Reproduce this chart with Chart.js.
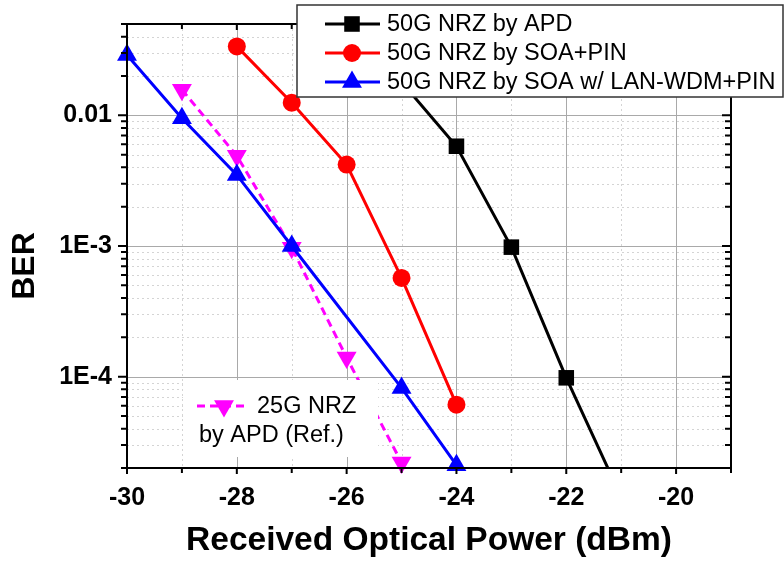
<!DOCTYPE html>
<html>
<head>
<meta charset="utf-8">
<script src="https://cdn.jsdelivr.net/npm/chart.js@4.4.0/dist/chart.umd.min.js"></script>
<style>
  html, body { margin: 0; padding: 0; background: #fff; }
  #wrap { width: 784px; height: 562px; }
</style>
</head>
<body>
<div id="wrap"><canvas id="c"></canvas></div>
<script>
const FONT = '"Liberation Sans", Arial, sans-serif';

// 50G NRZ by APD
const powerAPD = [-25, -24, -23, -22, -21];
const berAPD = [0.018, 0.0058, 0.00098, 0.000098, 0.000012];
// 50G NRZ by SOA+PIN
const powerSOA = [-28, -27, -26, -25, -24];
const berSOA = [0.0337, 0.0125, 0.0042, 0.00057, 0.000061];
// 50G NRZ by SOA w/ LAN-WDM+PIN
const powerWDM = [-30, -29, -28, -27, -25, -24];
const berWDM = [0.029, 0.0095, 0.0035, 0.001, 0.000082, 0.000021];
// 25G NRZ by APD (Ref.)
const powerRef = [-29, -28, -27, -26, -25];
const berRef = [0.0157, 0.0049, 0.00097, 0.00014, 0.000022];

const xTicks = [-30, -29, -28, -27, -26, -25, -24, -23, -22, -21, -20, -19];
const xLabels = ['-30', '', '-28', '', '-26', '', '-24', '', '-22', '', '-20', ''];
const yMajor = [1e-4, 1e-3, 1e-2];
const yLabels = ['1E-4', '1E-3', '0.01'];
const yDecades = [1e-5, 1e-4, 1e-3, 1e-2];
const yMult = [2, 3, 4, 5, 6, 7, 8, 9];
const Y_MIN = 2e-5, Y_MAX = 0.05;

const yMinor = [];
yDecades.forEach(d => yMult.forEach(m => {
  const v = d * m;
  if (v >= Y_MIN * 0.999 && v <= Y_MAX * 1.001) yMinor.push(v);
}));
const yAll = yMinor.concat(yMajor).sort((a, b) => a - b);

const pts = (xs, ys) => xs.map((x, i) => ({ x: x, y: ys[i] }));

function mark(ctx, style, x, y, r, rot) {
  ctx.beginPath();
  if (style === 'circle') {
    ctx.arc(x, y, r, 0, Math.PI * 2);
  } else if (style === 'rect') {
    const h = r * Math.SQRT1_2;
    ctx.rect(x - h, y - h, 2 * h, 2 * h);
  } else {
    const s = rot ? -1 : 1;
    ctx.moveTo(x, y - s * r);
    ctx.lineTo(x + r * 0.866, y + s * r / 2);
    ctx.lineTo(x - r * 0.866, y + s * r / 2);
    ctx.closePath();
  }
  ctx.fill();
}

const deco = {
  id: 'deco',
  beforeDatasetsDraw(chart) {
    const { ctx, chartArea: a, scales: { x, y } } = chart;
    ctx.save();
    ctx.lineWidth = 1;
    // minor grid, dotted
    ctx.strokeStyle = '#d4d4d4';
    ctx.setLineDash([2, 3]);
    xTicks.forEach((v, i) => {
      if (xLabels[i]) return;
      const px = Math.round(x.getPixelForValue(v)) + 0.5;
      ctx.beginPath(); ctx.moveTo(px, a.top); ctx.lineTo(px, a.bottom); ctx.stroke();
    });
    yMinor.forEach(v => {
      const py = Math.round(y.getPixelForValue(v)) + 0.5;
      ctx.beginPath(); ctx.moveTo(a.left, py); ctx.lineTo(a.right, py); ctx.stroke();
    });
    // major grid
    ctx.setLineDash([]);
    ctx.strokeStyle = '#a9a9a9';
    xTicks.forEach((v, i) => {
      if (!xLabels[i]) return;
      const px = Math.round(x.getPixelForValue(v)) + 0.5;
      ctx.beginPath(); ctx.moveTo(px, a.top); ctx.lineTo(px, a.bottom); ctx.stroke();
    });
    yMajor.forEach(v => {
      const py = Math.round(y.getPixelForValue(v)) + 0.5;
      ctx.beginPath(); ctx.moveTo(a.left, py); ctx.lineTo(a.right, py); ctx.stroke();
    });
    ctx.restore();
  },
  afterDatasetsDraw(chart) {
    const { ctx, chartArea: a, scales: { x, y } } = chart;
    const ds = chart.data.datasets;
    ctx.save();

    // frame and ticks
    ctx.strokeStyle = '#000';
    ctx.lineWidth = 2;
    ctx.strokeRect(a.left, a.top, a.right - a.left, a.bottom - a.top);
    xTicks.forEach((v, i) => {
      const px = x.getPixelForValue(v);
      const len = xLabels[i] ? 6 : 5;
      ctx.beginPath();
      ctx.moveTo(px, a.bottom); ctx.lineTo(px, a.bottom + len);
      ctx.moveTo(px, a.top); ctx.lineTo(px, a.top + len);
      ctx.stroke();
    });
    yAll.forEach(v => {
      const py = y.getPixelForValue(v);
      const len = yMajor.includes(v) ? 9 : 6;
      ctx.beginPath();
      ctx.moveTo(a.left, py); ctx.lineTo(a.left - len, py);
      ctx.moveTo(a.right, py); ctx.lineTo(a.right - len, py);
      ctx.stroke();
    });

    // y title
    ctx.save();
    ctx.translate(25, 266);
    ctx.rotate(-Math.PI / 2);
    ctx.fillStyle = '#000';
    ctx.font = 'bold 32px ' + FONT;
    ctx.textAlign = 'center';
    ctx.textBaseline = 'middle';
    ctx.fillText('BER', 0, 0);
    ctx.restore();

    // main legend
    ctx.fillStyle = '#fff';
    ctx.fillRect(297, 5, 486, 92);
    ctx.strokeStyle = '#333';
    ctx.lineWidth = 1.5;
    ctx.strokeRect(297, 5, 486, 92);
    ctx.font = '23.5px ' + FONT;
    ctx.textBaseline = 'middle';
    ctx.textAlign = 'left';
    [0, 1, 2].forEach((k, r) => {
      const d = ds[k];
      const ry = 24 + r * 29;
      ctx.strokeStyle = d.borderColor;
      ctx.lineWidth = 3;
      ctx.setLineDash([]);
      ctx.beginPath(); ctx.moveTo(325, ry); ctx.lineTo(380, ry); ctx.stroke();
      ctx.fillStyle = d.borderColor;
      mark(ctx, d.pointStyle, 352, ry, d.pointRadius, false);
      ctx.fillStyle = '#000';
      ctx.fillText(d.label, 387, ry + 1);
    });

    // reference legend
    const d = ds[3];
    ctx.fillStyle = '#fff';
    ctx.fillRect(183, 380, 195, 77);
    ctx.strokeStyle = d.borderColor;
    ctx.lineWidth = 3;
    ctx.setLineDash(d.borderDash);
    ctx.beginPath(); ctx.moveTo(197, 406); ctx.lineTo(249, 406); ctx.stroke();
    ctx.setLineDash([]);
    ctx.fillStyle = d.borderColor;
    mark(ctx, d.pointStyle, 224, 406, d.pointRadius, true);
    ctx.fillStyle = '#000';
    ctx.fillText('25G NRZ', 257, 407);
    ctx.fillText('by APD (Ref.)', 199, 436);

    ctx.restore();
  }
};

new Chart(document.getElementById('c'), {
  type: 'line',
  data: {
    datasets: [
      {
        label: '50G NRZ by APD', data: pts(powerAPD, berAPD),
        borderColor: '#000000', backgroundColor: '#000000',
        pointStyle: 'rect', pointRadius: 11, clip: 0
      },
      {
        label: '50G NRZ by SOA+PIN', data: pts(powerSOA, berSOA),
        borderColor: '#ff0000', backgroundColor: '#ff0000',
        pointStyle: 'circle', pointRadius: 9, clip: false
      },
      {
        label: '50G NRZ by SOA w/ LAN-WDM+PIN', data: pts(powerWDM, berWDM),
        borderColor: '#0000ff', backgroundColor: '#0000ff',
        pointStyle: 'triangle', pointRadius: 11.5, clip: false
      },
      {
        label: '25G NRZ by APD (Ref.)', data: pts(powerRef, berRef),
        borderColor: '#ff00ff', backgroundColor: '#ff00ff',
        pointStyle: 'triangle', pointRadius: 11.5, pointRotation: 180,
        borderDash: [8, 5], clip: false
      }
    ].map(s => Object.assign({ borderWidth: 3, pointBorderWidth: 0, pointHoverRadius: s.pointRadius, tension: 0 }, s))
  },
  options: {
    responsive: true,
    maintainAspectRatio: false,
    animation: false,
    events: [],
    layout: { padding: { top: 24, right: 53, left: 0, bottom: 0 } },
    plugins: { legend: { display: false }, tooltip: { enabled: false } },
    scales: {
      x: {
        type: 'linear', min: -30, max: -19,
        grid: { display: false, drawTicks: false },
        border: { display: false },
        afterBuildTicks: s => { s.ticks = xTicks.map(v => ({ value: v })); },
        afterFit: s => { s.height = 94; s.paddingLeft = 0; s.paddingRight = 0; },
        ticks: {
          autoSkip: false, maxRotation: 0, padding: 15, color: '#000',
          font: { family: FONT, size: 25, weight: 'bold' },
          callback: (v) => xLabels[xTicks.indexOf(v)] || ''
        },
        title: {
          display: true, text: 'Received Optical Power (dBm)', color: '#000',
          font: { family: FONT, size: 33.5, weight: 'bold' },
          padding: { top: 0, bottom: 1 }
        }
      },
      y: {
        type: 'logarithmic', min: Y_MIN, max: Y_MAX,
        grid: { display: false, drawTicks: false },
        border: { display: false },
        afterBuildTicks: s => { s.ticks = yAll.map(v => ({ value: v })); },
        afterFit: s => { s.width = 127; s.paddingTop = 0; s.paddingBottom = 0; },
        ticks: {
          autoSkip: false, padding: 15, color: '#000',
          font: { family: FONT, size: 25, weight: 'bold' },
          callback: (v) => {
            const i = yMajor.findIndex(m => Math.abs(m - v) / m < 1e-6);
            return i >= 0 ? yLabels[i] : '';
          }
        }
      }
    }
  },
  plugins: [deco]
});
</script>
</body>
</html>
